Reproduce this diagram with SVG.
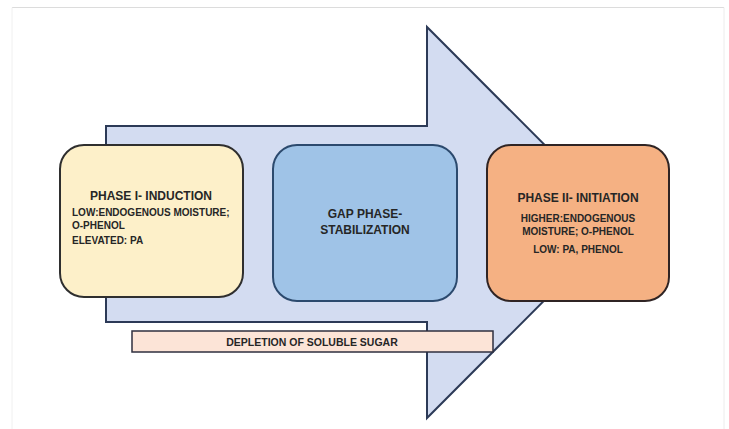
<svg xmlns="http://www.w3.org/2000/svg" width="729" height="429" viewBox="0 0 729 429">
  <style>
    .t { font-family: "Liberation Sans", Arial, sans-serif; font-weight: bold; fill: #262626; }
    .title { font-size: 12px; }
    .sub { font-size: 10px; }
    .node { stroke-width: 2; }
  </style>
  <rect width="729" height="429" fill="#ffffff"/>
  <g id="frame" fill="none">
    <line x1="12" y1="7.5" x2="724" y2="7.5" stroke="#dcdcdc" stroke-width="1"/>
    <line x1="12" y1="7.5" x2="12" y2="429" stroke="#f0f0f0" stroke-width="1"/>
    <line x1="724" y1="7.5" x2="724" y2="429" stroke="#ececec" stroke-width="1"/>
  </g>
  <g id="connectors">
    <path id="arrow" d="M106,126 H427 V27 L622,222.5 L427,418 V322 H106 Z" fill="#d3dcf1" stroke="#2c3a57" stroke-width="2" stroke-linejoin="miter"/>
  </g>
  <g id="phase1">
    <rect class="node" x="60" y="145" width="183" height="152" rx="24" fill="#fdf0c9" stroke="#2f2f2f"/>
    <text class="t title" x="151" y="200" text-anchor="middle">PHASE I- INDUCTION</text>
    <text class="t sub" x="72" y="216">LOW:ENDOGENOUS MOISTURE;</text>
    <text class="t sub" x="72" y="229">O-PHENOL</text>
    <text class="t sub" x="72" y="244">ELEVATED: PA</text>
  </g>
  <g id="gap">
    <rect class="node" x="273" y="145" width="184" height="156" rx="24" fill="#9fc3e7" stroke="#2c4a6e"/>
    <text class="t title" x="365" y="218" text-anchor="middle">GAP PHASE-</text>
    <text class="t title" x="365" y="234" text-anchor="middle">STABILIZATION</text>
  </g>
  <g id="phase2">
    <rect class="node" x="487" y="145" width="182" height="156" rx="24" fill="#f5b183" stroke="#2f2424"/>
    <text class="t title" x="578" y="202" text-anchor="middle">PHASE II- INITIATION</text>
    <text class="t sub" x="578" y="222" text-anchor="middle">HIGHER:ENDOGENOUS</text>
    <text class="t sub" x="578" y="235" text-anchor="middle">MOISTURE; O-PHENOL</text>
    <text class="t sub" x="578" y="253" text-anchor="middle">LOW: PA, PHENOL</text>
  </g>
  <g id="depletion">
    <rect x="132" y="331" width="361" height="21" fill="#fce4d7" stroke="#2f2f3f" stroke-width="1.5"/>
    <text class="t" x="312" y="345.5" text-anchor="middle" font-size="10.5">DEPLETION OF SOLUBLE SUGAR</text>
  </g>
</svg>
